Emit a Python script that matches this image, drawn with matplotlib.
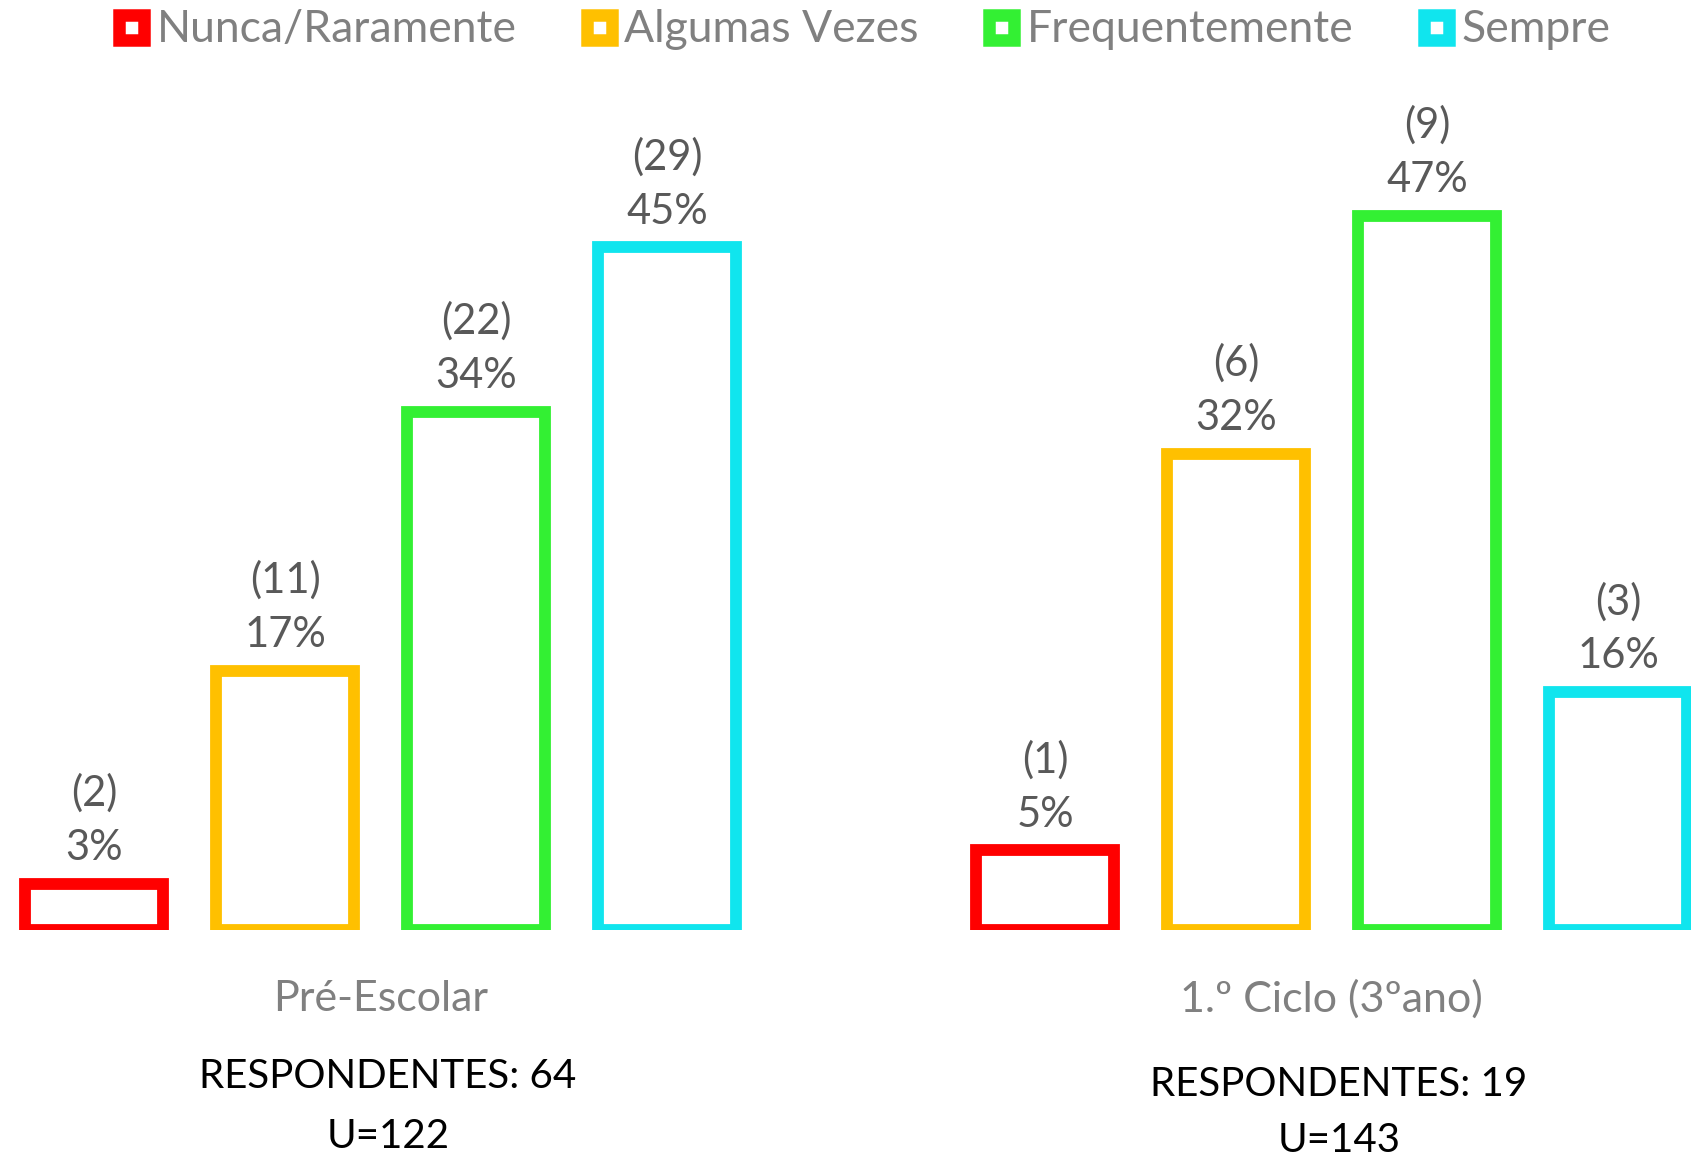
import matplotlib.pyplot as plt
import numpy as np
from matplotlib.lines import Line2D

plt.rcParams['font.family'] = ['Lato', 'DejaVu Sans']

# data
groups = ["Pré-Escolar", "1.º Ciclo (3ºano)"]
series = ["Nunca/Raramente", "Algumas Vezes", "Frequentemente", "Sempre"]
colors = ["#FF0000", "#FFC000", "#33F033", "#10E5EE"]

counts_pre = [2, 11, 22, 29]
pct_pre = [3.1, 17.2, 34.4, 45.3]
counts_ciclo = [1, 6, 9, 3]
pct_ciclo = [5.3, 31.6, 47.4, 15.8]

respondentes = [64, 19]
u_values = [122, 143]

counts = [counts_pre, counts_ciclo]
pcts = [pct_pre, pct_ciclo]

fig = plt.figure(figsize=(16.91, 11.6), dpi=100)
ax = fig.add_axes([0, 0.198, 1, 0.78])
ax.set_xlim(-0.4003, 1.3778)
ax.set_ylim(0, 60)
ax.axis("off")

x = np.arange(len(groups))
step = 0.2008
width = 0.145
lw = 8.5

for i, name in enumerate(series):
    xs = x + (i - 1.5) * step
    hs = [pcts[g][i] for g in range(len(groups))]
    ax.bar(xs, hs, width=width, facecolor="white", edgecolor=colors[i],
           linewidth=lw)
    for g in range(len(groups)):
        ax.annotate(f"({counts[g][i]})\n{round(pcts[g][i])}%",
                    xy=(xs[g], hs[g]), xytext=(0, 12), textcoords="offset points",
                    ha="center", va="bottom", fontsize=30, color="#595959",
                    linespacing=1.52)

# category labels and notes below
for g in range(len(groups)):
    xc = ax.transData.transform((x[g], 0))[0] / fig.bbox.width
    fig.text(xc, 1 - 999 / 1160, groups[g], ha="center", va="center",
             fontsize=31, color="#808080")

note_x = [388 / 1691, 1339 / 1691]
note_y = [(1077, 1136), (1084, 1141)]
for g in range(len(groups)):
    fig.text(note_x[g], 1 - note_y[g][0] / 1160, f"RESPONDENTES: {respondentes[g]}",
             ha="center", va="center", fontsize=29, color="black")
    fig.text(note_x[g], 1 - note_y[g][1] / 1160, f"U={u_values[g]}",
             ha="center", va="center", fontsize=29, color="black")

handles = [Line2D([], [], linestyle="none", marker="s", markersize=18,
                  markerfacecolor="white", markeredgecolor=c, markeredgewidth=9)
           for c in colors]
fig.legend(handles, series, loc="center", bbox_to_anchor=(0.509, 1 - 30 / 1160),
           ncol=4, frameon=False, fontsize=32, labelcolor="#808080",
           handlelength=0.9, handletextpad=0.13, columnspacing=1.4)

fig.savefig("out.png", dpi=100)
